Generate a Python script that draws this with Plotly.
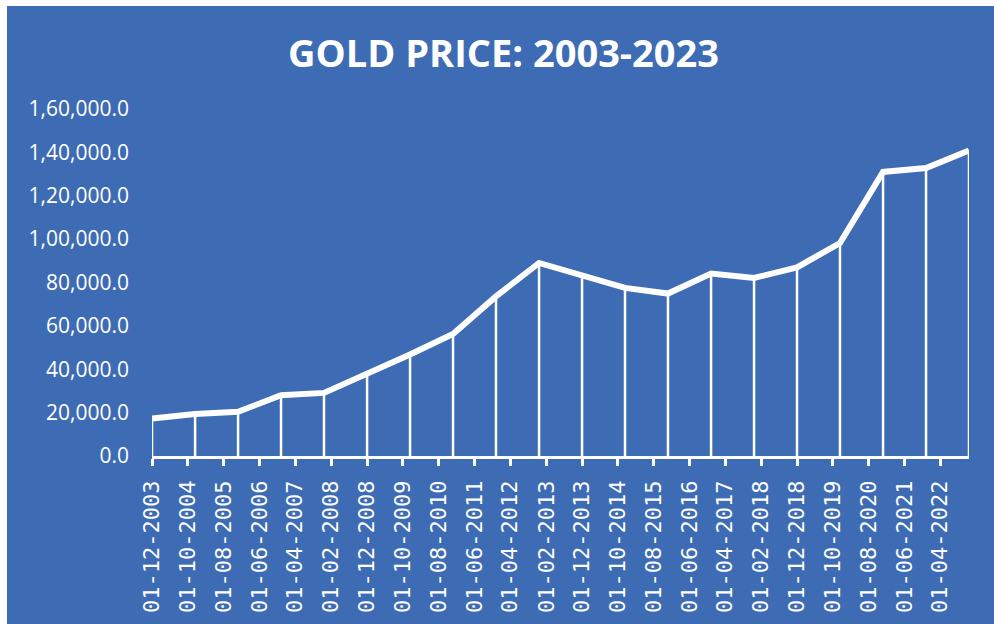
import plotly.graph_objects as go

# Gold price, one reading per year (December)
dates = [
    "2003-12-01", "2004-12-01", "2005-12-01", "2006-12-01", "2007-12-01",
    "2008-12-01", "2009-12-01", "2010-12-01", "2011-12-01", "2012-12-01",
    "2013-12-01", "2014-12-01", "2015-12-01", "2016-12-01", "2017-12-01",
    "2018-12-01", "2019-12-01", "2020-12-01", "2021-12-01", "2022-12-01",
]
prices = [
    17300, 19400, 20400, 28000, 29100,
    37600, 46800, 56300, 73600, 89000,
    82900, 77500, 74900, 84100, 82100,
    87000, 98200, 131000, 132800, 140900,
]

y_tick_values = [0, 20000, 40000, 60000, 80000, 100000, 120000, 140000, 160000]
y_tick_labels = [
    "0.0", "20,000.0", "40,000.0", "60,000.0", "80,000.0",
    "1,00,000.0", "1,20,000.0", "1,40,000.0", "1,60,000.0",
]

BLUE = "#3E6CB4"
WHITE = "#FFFFFF"

# vertical drop lines from the axis up to each point
drop_x, drop_y = [], []
for d, p in zip(dates, prices):
    drop_x += [d, d, None]
    drop_y += [0, p, None]

fig = go.Figure()
fig.add_trace(go.Scatter(
    x=drop_x, y=drop_y, mode="lines",
    line=dict(color=WHITE, width=2.5),
    hoverinfo="skip", showlegend=False,
))
fig.add_trace(go.Scatter(
    x=dates, y=prices, mode="lines",
    line=dict(color=WHITE, width=6),
    showlegend=False,
))

W, H = 994, 624
ml, mr, mt, mb = 152, 25, 109, 168
pw, ph = W - ml - mr, H - mt - mb

def px_x(v):
    return (v - ml) / pw

def px_y(v):
    return 1 - (v - mt) / ph

fig.update_layout(
    width=W, height=H,
    margin=dict(l=ml, r=mr, t=mt, b=mb, pad=0),
    paper_bgcolor=BLUE,
    plot_bgcolor=BLUE,
    font=dict(family="Open Sans, sans-serif", color=WHITE),
    shapes=[
        # white frame strip at the left and top edges
        dict(type="rect", xref="paper", yref="paper",
             x0=px_x(-5), x1=px_x(7), y0=px_y(H + 5), y1=px_y(-5),
             fillcolor=WHITE, line=dict(width=0), layer="above"),
        dict(type="rect", xref="paper", yref="paper",
             x0=px_x(-5), x1=px_x(W + 5), y0=px_y(6), y1=px_y(-5),
             fillcolor=WHITE, line=dict(width=0), layer="above"),
    ],
    annotations=[
        dict(text="<b>GOLD PRICE: 2003-2023</b>", xref="paper", yref="paper",
             x=px_x(503), y=px_y(52), xanchor="center", yanchor="middle",
             showarrow=False,
             font=dict(family="Open Sans, sans-serif", size=38, color=WHITE)),
    ],
)

fig.update_xaxes(
    type="date",
    range=[dates[0], dates[-1]],
    tick0=dates[0], dtick="M10",
    tickformat="%d-%m-%Y",
    tickangle=-90,
    tickfont=dict(family="DejaVu Sans Mono, monospace", size=22, color=WHITE),
    showgrid=False, zeroline=False,
    showline=True, linecolor=WHITE, linewidth=2.5,
    ticks="outside", ticklen=7, tickwidth=2.5, tickcolor=WHITE,
    ticklabelstandoff=6,
)
fig.update_yaxes(
    range=[0, 160000],
    tickvals=y_tick_values, ticktext=y_tick_labels,
    tickfont=dict(family="Open Sans, sans-serif", size=21, color=WHITE),
    showgrid=False, zeroline=False, showline=False,
    ticks="", ticklabelstandoff=22,
)

fig.write_html("out.html")
